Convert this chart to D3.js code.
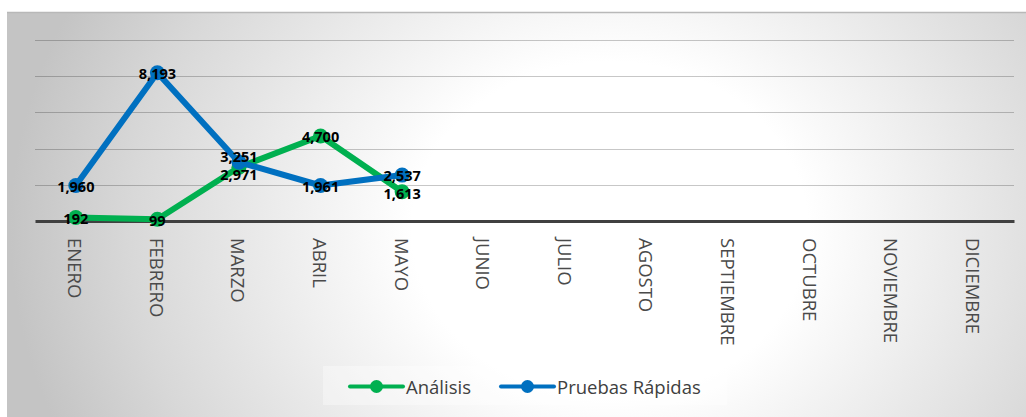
<!DOCTYPE html>
<html><head><meta charset="utf-8">
<script src="https://cdn.jsdelivr.net/npm/d3@7"></script>
<style>html,body{margin:0;padding:0;background:#fff;}svg{display:block;}</style>
</head><body><svg id="c" width="1026" height="417"></svg>
<script>
const months = ["ENERO","FEBRERO","MARZO","ABRIL","MAYO","JUNIO","JULIO","AGOSTO","SEPTIEMBRE","OCTUBRE","NOVIEMBRE","DICIEMBRE"];
const analisis = [192, 99, 2971, 4700, 1613];
const pruebas = [1960, 8193, 3251, 1961, 2537];
const yTicks = [0, 2000, 4000, 6000, 8000, 10000];
const seriesNames = ["Análisis", "Pruebas Rápidas"];
const seriesColors = ["#00B050", "#0070C0"];

const svg = d3.select("#c");
const W = 1026, H = 417;
const defs = svg.append("defs");
const rg = defs.append("radialGradient").attr("id","bg").attr("gradientUnits","userSpaceOnUse")
  .attr("cx",610).attr("cy",230).attr("r",600)
  .attr("gradientTransform","translate(610,230) scale(1,0.85) translate(-610,-230)");
[[0,"#ffffff"],[0.33,"#ffffff"],[0.8,"#d8d8d8"],[1,"#c4c4c4"]].forEach(s=>rg.append("stop").attr("offset",s[0]).attr("stop-color",s[1]));

svg.append("rect").attr("x",7).attr("y",12).attr("width",W-7).attr("height",H-12).attr("fill","url(#bg)");
svg.append("line").attr("x1",7).attr("x2",W).attr("y1",12.5).attr("y2",12.5).attr("stroke","#b8b8b8").attr("stroke-width",1.5);

const x = d3.scaleBand().domain(months).range([35,1014]);
const y = d3.scaleLinear().domain([0,10000]).range([221,40]);
const cx = m => x(m) + x.bandwidth()/2;

// gridlines
const grid = svg.append("g");
grid.selectAll("line").data(yTicks.filter(t=>t>0)).join("line")
  .attr("x1",35).attr("x2",1014).attr("y1",d=>Math.round(y(d))+0.5).attr("y2",d=>Math.round(y(d))+0.5)
  .attr("stroke","rgba(0,0,0,0.22)").attr("stroke-width",1);

// x axis
const xAxis = svg.append("g").attr("transform","translate(0,221)")
  .call(d3.axisBottom(x).tickSize(0).tickPadding(0));
xAxis.select(".domain").attr("stroke","#404040").attr("stroke-width",3);
xAxis.selectAll(".tick text")
  .attr("transform","translate(0,17) rotate(90)")
  .attr("x",0).attr("y",0).attr("dy",null)
  .attr("text-anchor","start").attr("dominant-baseline","central")
  .attr("font-family","'Open Sans'").attr("font-size",18.5).attr("fill","#4a4a4a");

const datasets = [analisis, pruebas];
const line = d3.line().x((d,i)=>cx(months[i])).y(d=>y(d));
datasets.forEach((ds,k)=>{
  svg.append("path").datum(ds).attr("d",line).attr("fill","none")
    .attr("stroke",seriesColors[k]).attr("stroke-width",6).attr("stroke-linejoin","round");
  svg.append("g").selectAll("circle").data(ds).join("circle")
    .attr("cx",(d,i)=>cx(months[i])).attr("cy",d=>y(d)).attr("r",7.5).attr("fill",seriesColors[k]);
});

// data labels, pushed apart when overlapping at the same category
const labels = [];
datasets.forEach((ds,k)=>ds.forEach((v,i)=>labels.push({k,i,v,ly:y(v)+1})));
d3.range(analisis.length).forEach(i=>{
  const pair = labels.filter(l=>l.i===i);
  if (pair.length===2){
    const [a,b] = pair[0].ly < pair[1].ly ? pair : [pair[1],pair[0]];
    const gap = b.ly - a.ly;
    if (gap < 18){ const mid=(a.ly+b.ly)/2; a.ly=mid-9; b.ly=mid+9; }
  }
});
const fmt = d3.format(",");
svg.append("g").selectAll("text").data(labels).join("text")
  .attr("x",d=>cx(months[d.i])).attr("y",d=>d.ly)
  .attr("text-anchor","middle").attr("dominant-baseline","central")
  .attr("font-family","'Open Sans'").attr("font-weight","bold").attr("font-size",14.5).attr("fill","#000")
  .text(d=>fmt(d.v));

// legend
const lg = svg.append("g");
lg.append("rect").attr("x",323).attr("y",366).attr("width",404).attr("height",39).attr("fill","#ffffff").attr("opacity",0.35);
const items = [{x0:350, tx:406},{x0:501, tx:557}];
items.forEach((it,k)=>{
  lg.append("line").attr("x1",it.x0).attr("x2",it.x0+53).attr("y1",386.5).attr("y2",386.5)
    .attr("stroke",seriesColors[k]).attr("stroke-width",4).attr("stroke-linecap","round");
  lg.append("circle").attr("cx",it.x0+26.5).attr("cy",386.5).attr("r",6.5).attr("fill",seriesColors[k]);
  lg.append("text").attr("x",it.tx).attr("y",386.5).attr("dominant-baseline","central")
    .attr("font-family","'Open Sans'").attr("font-size",18.5).attr("fill","#404040").text(seriesNames[k]);
});
</script></body></html>
